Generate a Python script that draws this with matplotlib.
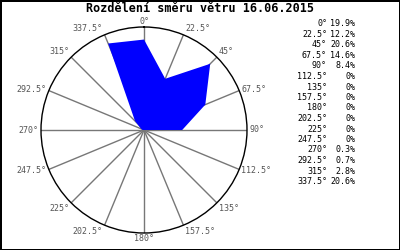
import numpy as np
import matplotlib
matplotlib.use('Agg')
import matplotlib.pyplot as plt

title = 'Rozdělení směru větru 16.06.2015'
directions = [0, 22.5, 45, 67.5, 90, 112.5, 135, 157.5, 180,
              202.5, 225, 247.5, 270, 292.5, 315, 337.5]
percents = [19.9, 12.2, 20.6, 14.6, 8.4, 0, 0, 0, 0,
            0, 0, 0, 0.3, 0.7, 2.8, 20.6]

mono = 'DejaVu Sans Mono'

fig = plt.figure(figsize=(4, 2.5), dpi=100)
fig.patch.set_facecolor('white')
fig.patch.set_edgecolor('black')
fig.patch.set_linewidth(2)

ax = fig.add_axes([0.1025, 0.068, 0.515, 0.824], projection='polar')
ax.set_theta_zero_location('N')
ax.set_theta_direction(-1)

theta = np.deg2rad(directions + [directions[0]])
r = percents + [percents[0]]
ax.fill(theta, r, color='blue', linewidth=0, zorder=2)

rmax = max(percents) * 1.1
ax.set_ylim(0, rmax)
ax.set_yticks([])
ax.yaxis.grid(False)

ax.set_xticks(np.deg2rad(directions))
ax.set_xticklabels([])
ax.xaxis.grid(True, color='#777777', linewidth=1, linestyle='-')
ax.spines['polar'].set_color('black')
ax.spines['polar'].set_linewidth(1)

# angle labels just outside the circle
for d in directions:
    t = np.deg2rad(d)
    s, c = np.sin(t), np.cos(t)
    ha = 'left' if s > 0.01 else ('right' if s < -0.01 else 'center')
    va = 'bottom' if c > 0.5 else ('top' if c < -0.5 else 'center')
    ax.annotate('%g°' % d, xy=(t, rmax), xytext=(1.5 * np.sign(round(s, 2)), 1.0 * np.sign(round(c, 2))),
                textcoords='offset points', ha=ha, va=va, fontsize=6, family=mono,
                color='#555555', annotation_clip=False)

fig.text(0.5, 0.966, title, ha='center', va='center', fontsize=8.5,
         fontweight='bold', family=mono)

# legend column on the right
y0 = 1 - 24 / 250
dy = 10.5 / 250
for i, (d, p) in enumerate(zip(directions, percents)):
    y = y0 - i * dy
    fig.text(327 / 400, y, '%g°' % d, ha='right', va='center', fontsize=6, family=mono)
    fig.text(355 / 400, y, '%g%%' % p, ha='right', va='center', fontsize=6, family=mono)

fig.savefig('out.png', dpi=100, facecolor=fig.get_facecolor(), edgecolor=fig.get_edgecolor())
